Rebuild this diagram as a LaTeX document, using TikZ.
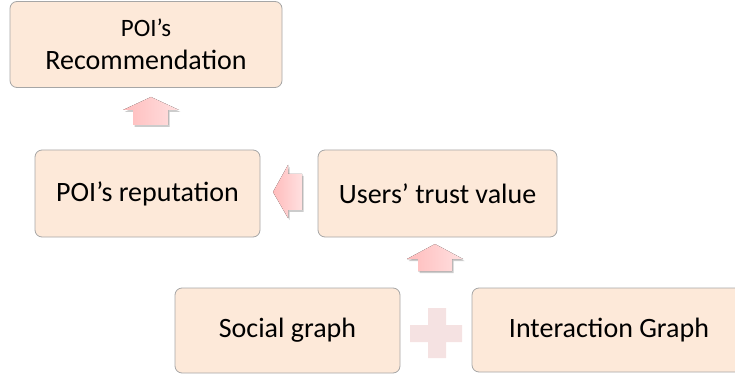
\documentclass[tikz,border=0pt]{standalone}
\usepackage{fontspec}
\setmainfont{Carlito}
\usetikzlibrary{shadows}
\definecolor{boxfill}{HTML}{FDE9D9}
\definecolor{boxline}{HTML}{A6A6A6}
\definecolor{plusfill}{HTML}{F5E2E2}
\definecolor{arrowdark}{HTML}{FFBCBC}
\definecolor{arrowlight}{HTML}{FFE0E0}

\begin{document}
\begin{tikzpicture}[x=1pt,y=-1pt,
  box/.style={draw=boxline,fill=boxfill,rounded corners=7pt,line width=0.8pt,
    align=center,inner sep=0pt,font=\fontsize{28}{33}\selectfont},
  blockarrow/.style={draw=none,left color=arrowdark,right color=arrowlight,
    drop shadow={opacity=0.4,shadow xshift=1.5pt,shadow yshift=-2pt}}]
\useasboundingbox (0,0) rectangle (735,379);

% the boxes
\node [box,minimum width=272pt,minimum height=86pt] (rec) at (146,44.5)
  {{\fontsize{25}{33}\selectfont POI’s}\\Recommendation};
\node [box,minimum width=225pt,minimum height=87pt] (rep) at (147.5,193.5) {POI’s reputation};
\node [box,minimum width=239pt,minimum height=87pt] (trust) at (437.5,193.5) {Users’ trust value};
\node [box,minimum width=225pt,minimum height=85pt] (social) at (287.5,330.5) {Social graph};
\node [box,minimum width=274pt,minimum height=84pt] (inter) at (609,330) {Interaction Graph};

% plus sign between the two graphs
\fill [plusfill] (410,325) rectangle (462,342) (428,308) rectangle (446,358);

% block arrows
\fill [blockarrow] (151,97) -- (179,110) -- (168,110) -- (168,125)
  -- (133,125) -- (133,110) -- (123,110) -- cycle;
\fill [blockarrow] (435,244) -- (463,259) -- (452,259) -- (452,271)
  -- (418,271) -- (418,259) -- (407,259) -- cycle;
\fill [blockarrow]
  (273,192) -- (288,165) -- (288,174) -- (302,174)
  -- (302,210) -- (288,210) -- (288,218) -- cycle;
\end{tikzpicture}
\end{document}
